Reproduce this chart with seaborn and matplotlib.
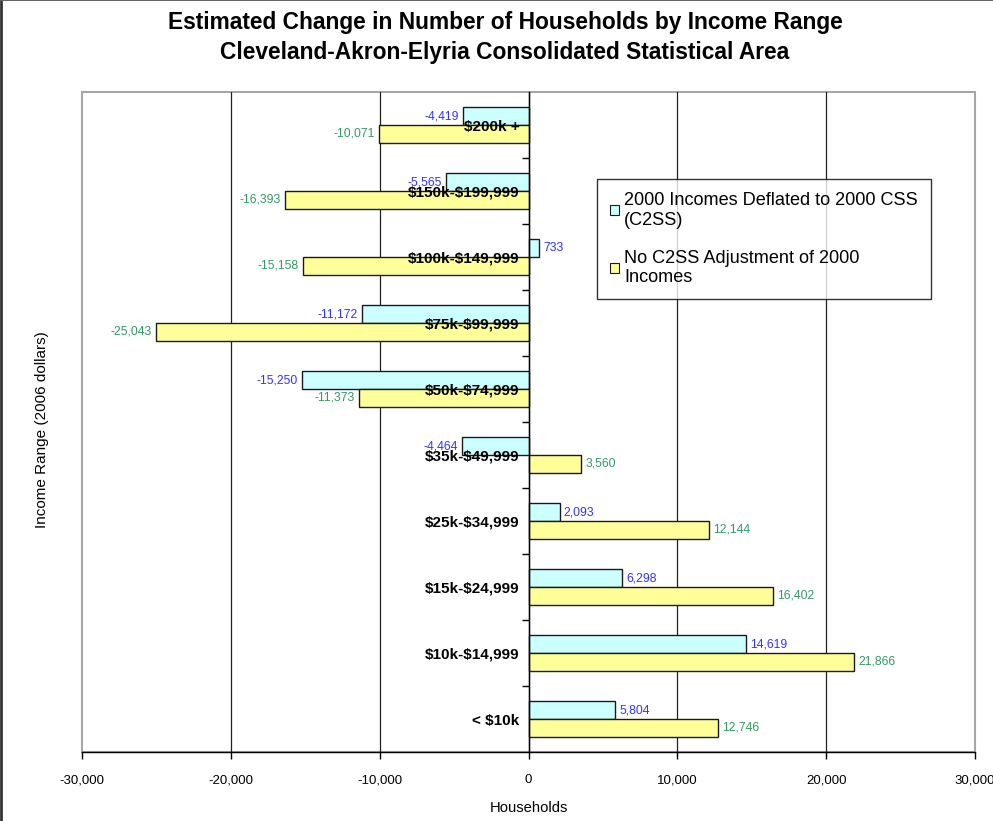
import matplotlib
matplotlib.use("Agg")
import matplotlib.pyplot as plt
import matplotlib.ticker as mticker
from matplotlib.lines import Line2D
from matplotlib.patches import Rectangle
import seaborn as sns
import pandas as pd

categories = ["$200k +", "$150k-$199,999", "$100k-$149,999", "$75k-$99,999",
              "$50k-$74,999", "$35k-$49,999", "$25k-$34,999", "$15k-$24,999",
              "$10k-$14,999", "< $10k"]
series_names = ["2000 Incomes Deflated to 2000 CSS (C2SS)",
                "No C2SS Adjustment of 2000 Incomes"]
legend_labels = ["2000 Incomes Deflated to 2000 CSS\n(C2SS)",
                 "No C2SS Adjustment of 2000\nIncomes"]
deflated = [-4419, -5565, 733, -11172, -15250, -4464, 2093, 6298, 14619, 5804]
no_adjust = [-10071, -16393, -15158, -25043, -11373, 3560, 12144, 16402, 21866, 12746]
x_ticks = [-30000, -20000, -10000, 0, 10000, 20000, 30000]

title1 = "Estimated Change in Number of Households by Income Range"
title2 = "Cleveland-Akron-Elyria Consolidated Statistical Area"
xlabel = "Households"
ylabel = "Income Range (2006 dollars)"

bar_colors = ["#CCFFFF", "#FFFF99"]
label_colors = ["#3333FF", "#339966"]

df = pd.DataFrame({
    "Income": categories * 2,
    "Households": deflated + no_adjust,
    "Series": [series_names[0]] * len(categories) + [series_names[1]] * len(categories),
})

sns.set_theme(style="white")
plt.rcParams["font.family"] = ["Liberation Sans", "DejaVu Sans"]
for key in ["text.color", "axes.labelcolor", "xtick.color", "ytick.color"]:
    plt.rcParams[key] = "black"

fig = plt.figure(figsize=(9.93, 8.21), dpi=100)
fig.patch.set_facecolor("white")
ax = fig.add_axes([82 / 993, 1 - 752 / 821, (975 - 82) / 993, (752 - 92) / 821])

sns.barplot(data=df, y="Income", x="Households", hue="Series", orient="h",
            order=categories, hue_order=series_names, palette=bar_colors,
            saturation=1, width=0.545, edgecolor="#1a1a1a", linewidth=1,
            ax=ax, legend=True)

ax.set_xlim(-30000, 30000)
ax.set_ylim(9.5, -0.5)
ax.set_xlabel("")
ax.set_ylabel("")

# value labels
for cont, col in zip(ax.containers, label_colors):
    ax.bar_label(cont, fmt="{:,.0f}", padding=3, color=col, fontsize=8.8)

# x axis
ax.set_xticks(x_ticks)
ax.xaxis.set_major_formatter(mticker.FuncFormatter(lambda v, p: f"{v:,.0f}"))
ax.tick_params(axis="x", which="major", direction="out", length=5, width=1,
               color="black", pad=11, labelsize=9.5, bottom=True)
ax.grid(axis="x", color="#202020", linewidth=0.9)
ax.grid(axis="y", visible=False)
gl = ax.xaxis.get_gridlines()
gl[0].set_visible(False)
gl[-1].set_visible(False)
ax.xaxis.set_zorder(0.5)

# y axis at zero, labels inside plot
ax.spines["left"].set_position(("data", 0))
ax.spines["left"].set_color("black")
ax.spines["left"].set_linewidth(1)
ax.spines["bottom"].set_color("black")
ax.spines["bottom"].set_linewidth(1)
ax.spines["top"].set_visible(False)
ax.spines["right"].set_visible(False)
ax.set_yticks(range(len(categories)))
ax.set_yticklabels([c.replace("$", r"\$") for c in categories],
                   fontweight="bold", fontsize=11, color="black")
ax.yaxis.set_minor_locator(mticker.FixedLocator([i + 0.5 for i in range(len(categories) - 1)]))
ax.tick_params(axis="y", which="major", length=0, pad=6.5, left=True)
ax.tick_params(axis="y", which="minor", direction="out", length=5, width=1,
               color="black", left=True)
ax.yaxis.set_zorder(5)

# plot area border (gray)
ax.add_patch(Rectangle((0, 0), 1, 1, transform=ax.transAxes, fill=False,
                       edgecolor="#a6a6a6", linewidth=1.5, zorder=0.4, clip_on=False))

# legend
handles, _ = ax.get_legend_handles_labels()
leg = ax.legend(handles, legend_labels, loc="upper left",
                bbox_to_anchor=(597 / 993, 1 - 179 / 821), bbox_transform=fig.transFigure,
                borderaxespad=0, fancybox=False, frameon=True, fontsize=13.1,
                handlelength=0.5, handleheight=0.5, handletextpad=0.3,
                labelspacing=1.15, borderpad=0.7, edgecolor="black")
leg.get_frame().set_linewidth(1)
for t in leg.get_texts():
    t.set_linespacing(1.22)
for h in leg.legend_handles:
    h.set_edgecolor("#1a1a1a")
    h.set_linewidth(0.8)

# titles and axis labels
fig.text(505 / 993, 1 - 22 / 821, title1, ha="center", va="center",
         fontsize=16.4, fontweight="bold")
fig.text(505 / 993, 1 - 52 / 821, title2, ha="center", va="center",
         fontsize=16.4, fontweight="bold")
fig.text(529 / 993, 1 - 808 / 821, xlabel, ha="center", va="center", fontsize=10.6)
fig.text(42 / 993, 1 - 430 / 821, ylabel, ha="center", va="center",
         fontsize=11, rotation=90)

# outer chart border (left and top visible)
fig.add_artist(Line2D([1 / 993, 1 / 993], [0, 1], transform=fig.transFigure,
                      color="#333333", linewidth=2))
fig.add_artist(Line2D([0, 1], [1 - 0.5 / 821, 1 - 0.5 / 821], transform=fig.transFigure,
                      color="#666666", linewidth=1.5))

fig.savefig("out.png", dpi=100)
